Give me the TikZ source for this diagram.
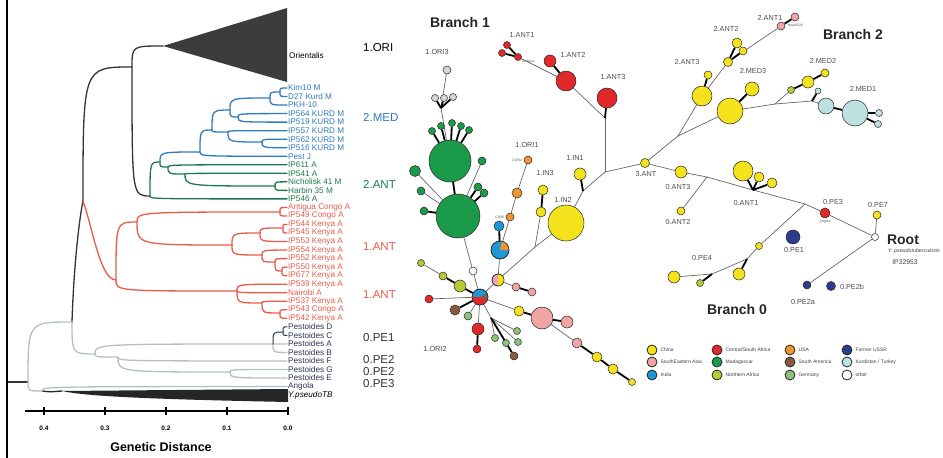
\documentclass[tikz,border=0pt]{standalone}
\usepackage{fontspec}
\setmainfont{Liberation Sans}
\usetikzlibrary{positioning,calc,backgrounds}

\definecolor{medblue}{HTML}{2E7BC0}
\definecolor{antgreen}{HTML}{1C7A4A}
\definecolor{antred}{HTML}{EB5A48}
\definecolor{pegray}{HTML}{B5BEC4}
\definecolor{pedark}{HTML}{2D3552}
\definecolor{treedark}{HTML}{333333}
\definecolor{oricol}{HTML}{3C3C3C}
\definecolor{cchina}{HTML}{F4E21C}
\definecolor{csea}{HTML}{F2A3A3}
\definecolor{cindia}{HTML}{1E98D4}
\definecolor{cafr}{HTML}{E1292B}
\definecolor{cmad}{HTML}{1B9A4A}
\definecolor{cnafr}{HTML}{B9C935}
\definecolor{cusa}{HTML}{EC9632}
\definecolor{csam}{HTML}{8A5A3E}
\definecolor{cger}{HTML}{8CC07C}
\definecolor{cussr}{HTML}{2B3E8E}
\definecolor{ckurd}{HTML}{BDE0E0}
\definecolor{cori}{HTML}{D6D6D6}

\begin{document}
\begin{tikzpicture}[x=1pt, y=-1pt,
    tr/.style={line width=1.3pt, line cap=round},
    leaf/.style={anchor=west, inner sep=1pt, font=\fontsize{8.2}{8.5}\selectfont},
    clade/.style={anchor=west, inner sep=0pt, font=\fontsize{11.5}{12}\selectfont},
    tick/.style={font=\bfseries\fontsize{6.5}{7}\selectfont},
    hap/.style={circle, draw=black!85, line width=0.5pt, inner sep=0pt, minimum size=#1},
    hap/.default=8pt,
    edge/.style={draw=black!60, line width=0.7pt},
    tie/.style={draw=black, line width=1.8pt},
    hlab/.style={font=\fontsize{7.3}{8}\selectfont, text=black!70},
    tiny/.style={font=\fontsize{3.5}{4}\selectfont, text=black!65, inner sep=0.5pt},
    brlab/.style={font=\bfseries\fontsize{14}{14}\selectfont, text=black!85},
    leg/.style={font=\fontsize{5}{5}\selectfont, text=black!75, inner sep=0pt}
]
\useasboundingbox (0,0) rectangle (943,458);

% ---------------- dendrogram ----------------
\draw[line width=2pt] (7,0) -- (7,458);

% leaves
\foreach \t [count=\i from 0] in {Kim10 M, D27 Kurd M, PKH-10, IP564 KURD M, IP519 KURD M,
    IP557 KURD M, IP562 KURD M, IP516 KURD M, Pest J} {
  \coordinate (l\i) at (287,{88+8.53*\i});
  \node[leaf, text=medblue] (lab\i) at (l\i) {\t};
}
\foreach \t [count=\i from 9] in {IP611 A, IP541 A, Nicholisk 41 M, Harbin 35 M, IP546 A} {
  \coordinate (l\i) at (287,{88+8.53*\i});
  \node[leaf, text=antgreen] (lab\i) at (l\i) {\t};
}
\foreach \t [count=\i from 14] in {Antigua Congo A, IP549 Congo A, IP544 Kenya A, IP545 Kenya A,
    IP553 Kenya A, IP554 Kenya A, IP552 Kenya A, IP550 Kenya A, IP677 Kenya A, IP539 Kenya A,
    Nairobi A, IP537 Kenya A, IP543 Congo A, IP542 Kenya A} {
  \coordinate (l\i) at (287,{88+8.53*\i});
  \node[leaf, text=antred] (lab\i) at (l\i) {\t};
}
\foreach \t [count=\i from 28] in {Pestoides D, Pestoides C, Pestoides A, Pestoides B,
    Pestoides F, Pestoides G, Pestoides E, Angola} {
  \coordinate (l\i) at (287,{88+8.53*\i});
  \node[leaf, text=pedark] (lab\i) at (l\i) {\t};
}
\coordinate (l36) at (287,{88+8.53*36});
\node[leaf, text=black] (lab36) at (l36) {\itshape Y.pseudoTB};

% collapsed clades
\coordinate (ori) at (163,46);
\fill[oricol] (ori) -- (287,8) -- (287,82) -- cycle;
\node[leaf] (orilab) at (288,56) {Orientalis};
\coordinate (yp) at (62,391);
\fill[black!85] (yp) -- (288,389) -- (288,402) .. controls (140,399) and (85,396) .. (yp);

% internal nodes
\coordinate (rt) at (8,382);   \coordinate (p0) at (28,382);
\coordinate (p1) at (72,322);  \coordinate (q0) at (42,391);
\coordinate (r0) at (83,201);  \coordinate (k1) at (132,67);
\coordinate (g0) at (150,196); \coordinate (g1) at (160,162);
\coordinate (gA) at (168,167); \coordinate (gB) at (185,174);
\coordinate (gC) at (275,186);
\coordinate (bA) at (200,152); \coordinate (bB) at (212,130);
\coordinate (bC) at (230,110); \coordinate (bD) at (228,132);
\coordinate (bE) at (262,142); \coordinate (bF) at (238,117);
\coordinate (bG) at (270,98);  \coordinate (bH) at (280,92);
\coordinate (rA) at (116,280); \coordinate (rB) at (137,222);
\coordinate (rC) at (237,291); \coordinate (rD) at (280,212);
\coordinate (rE) at (232,245); \coordinate (rF) at (260,233);
\coordinate (rG) at (262,255); \coordinate (rH) at (283,228);
\coordinate (rI) at (275,262); \coordinate (rJ) at (282,271);
\coordinate (rL) at (262,303); \coordinate (rM) at (280,313);
\coordinate (pA) at (95,354);  \coordinate (pB) at (273,344);
\coordinate (pC) at (118,357); \coordinate (pD) at (283,332);
\coordinate (pE) at (230,372);

% branches
\draw[tr, treedark] (rt) -- (p0);
\draw[tr, treedark] (p1) .. controls (74,260) and (80,215) .. (r0);
\foreach \a/\b in {r0/k1, k1/ori, k1/g0}
  \draw[tr, treedark] (\a) .. controls (\a |- \b) .. (\b);
\draw[tr, black!85] (q0) .. controls (50,392) .. (yp);
\foreach \a/\b in {g0/l13, g0/g1, g1/gA, gA/l9, gA/gB, gB/l10, gB/gC, gC/l11, gC/l12}
  \draw[tr, antgreen] (\a) .. controls (\a |- \b) .. (\b);
\foreach \a/\b in {g1/bA, bA/l8, bA/bB, bB/bC, bB/bD, bD/l5, bD/bE, bE/l6, bE/l7,
    bC/bF, bC/bG, bF/l3, bF/l4, bG/l2, bG/bH, bH/l0, bH/l1}
  \draw[tr, medblue] (\a) .. controls (\a |- \b) .. (\b);
\draw[tr, antred] (r0) .. controls (92,225) and (100,280) .. (rA);
\foreach \a/\b in {rA/rB, rA/rC, rB/rD, rB/rE, rD/l14, rD/l15, rE/rF, rE/rG, rF/rH, rF/l18,
    rH/l16, rH/l17, rG/l19, rG/rI, rI/l20, rI/rJ, rJ/l21, rJ/l22,
    rC/l23, rC/l24, rC/rL, rL/l25, rL/rM, rM/l26, rM/l27}
  \draw[tr, antred] (\a) .. controls (\a |- \b) .. (\b);
\foreach \a/\b in {p0/p1, p1/pA, pA/pB, pA/pC, pB/l30, pB/l31, pC/l32, pC/pE, pE/l33, pE/l34,
    p0/q0, q0/l35}
  \draw[tr, pegray] (\a) .. controls (\a |- \b) .. (\b);
\foreach \a/\b in {pB/pD, pD/l28, pD/l29}
  \draw[tr, pedark, line width=1pt] (\a) .. controls (\a |- \b) .. (\b);

% clade names
\node[clade, text=black] (c1) at (363,48) {1.ORI};
\node[clade, text=medblue] (c2) at (363,117) {2.MED};
\node[clade, text=antgreen] (c3) at (363,184) {2.ANT};
\node[clade, text=antred] (c4) at (363,247) {1.ANT};
\node[clade, text=antred] (c5) at (363,295) {1.ANT};
\node[clade, text=treedark] (c6) at (363,338) {0.PE1};
\node[clade, text=treedark] (c7) at (363,360) {0.PE2};
\node[clade, text=treedark] (c8) at (363,372) {0.PE2};
\node[clade, text=treedark] (c9) at (363,384) {0.PE3};

% axis
\coordinate (ax0) at (25,411); \coordinate (ax1) at (289,411);
\draw[line width=1.8pt] (ax0) -- (ax1);
\foreach \v/\x in {0.4/44, 0.3/105, 0.2/166, 0.1/227, 0.0/288} {
  \draw[line width=1.5pt] (\x,407) -- (\x,415);
  \node[tick] (tk\x) at (\x,428) {\v};
}
\node[font=\bfseries\fontsize{12.5}{13}\selectfont] (gdist) at (161,447) {Genetic Distance};

% ---------------- network ----------------
% Branch 1
\node[hap=7pt, fill=cafr] (a1a) at (507,45) {};
\node[hap=7pt, fill=cafr] (a1b) at (502,53) {};
\node[hap=7pt, fill=cafr] (a1c) at (518,57) {};
\node[hap=12pt, fill=cafr] (a2) at (550,61) {};
\node[hap=20pt, fill=cafr] (a3) at (566,81) {};
\node[hap=20pt, fill=cafr] (a4) at (607,98) {};
\coordinate (jA) at (605,118);
\coordinate (J1) at (605,172);
\coordinate (K2) at (583,191);
\coordinate (jB) at (535,247);
\node[hap=9pt, fill=cchina] (t3) at (645,163) {};
\node[hap=12pt, fill=cchina] (in1) at (580,174) {};
\node[hap=36pt, fill=cchina] (in2) at (566,223) {};
\node[hap=10pt, fill=cchina] (in3a) at (541,212) {};
\node[hap=10pt, fill=cchina] (in3b) at (543,190) {};
\node[hap=8pt, fill=cusa] (o1) at (528,160) {};
\node[hap=10pt, fill=cusa] (o2) at (517,193) {};
\node[hap=8pt, fill=cusa] (o3) at (510,217) {};
\node[hap=10pt, fill=cindia] (bl1) at (499,226) {};
\node[hap=18pt, fill=cindia] (pieBO) at (500,250) {};
\node[hap=12pt, fill=csea] (pieSY) at (498,280) {};
\node[hap=8pt, fill=csea] (pk1) at (516,287) {};
\node[hap=8pt, fill=csea] (pk2) at (532,292) {};
\node[hap=16pt, fill=cindia] (ctr) at (480,297) {};
\node[hap=8pt, fill=white] (wh) at (473,271) {};
\node[hap=44pt, fill=cmad] (gbig2) at (458,216) {};
\node[hap=42pt, fill=cmad] (gbig1) at (450,161) {};
\foreach \x/\y [count=\i] in {432/131, 441/126, 452/123, 461/126, 469/130}
  \node[hap=7pt, fill=cmad] (gs\i) at (\x,\y) {};
\node[hap=11pt, fill=cmad] (gs6) at (415,171) {};
\node[hap=8pt, fill=cmad] (gs7) at (482,161) {};
\node[hap=8pt, fill=cmad] (gs8) at (421,191) {};
\node[hap=8pt, fill=cmad] (gs9) at (424,211) {};
\node[hap=8pt, fill=cmad] (gs10) at (478,187) {};
\node[hap=8pt, fill=cmad] (gs11) at (484,193) {};
\coordinate (jC) at (441,108);
\node[hap=8pt, fill=cori] (w0) at (447,70) {};
\node[hap=7pt, fill=cori] (w1) at (435,98) {};
\node[hap=7pt, fill=cori] (w2) at (444,98) {};
\node[hap=7pt, fill=cori] (w3) at (453,97) {};
\node[hap=7pt, fill=cnafr] (na1) at (421,263) {};
\node[hap=8pt, fill=cnafr] (na2) at (443,276) {};
\node[hap=12pt, fill=cnafr] (na3) at (460,286) {};
\node[hap=8pt, fill=cafr] (rd1) at (429,299) {};
\node[hap=10pt, fill=csam] (br1) at (455,310) {};
\node[hap=8pt, fill=cger] (gg1) at (468,316) {};
\node[hap=12pt, fill=cafr] (rd2) at (478,329) {};
\node[hap=8pt, fill=cafr] (rd3) at (477,349) {};
\coordinate (jD) at (491,318);
\node[hap=7pt, fill=cger] (ge1) at (495,338) {};
\node[hap=7pt, fill=cger] (ge2) at (506,343) {};
\node[hap=7pt, fill=cger] (ge3) at (518,342) {};
\node[hap=7pt, fill=cger] (ge4) at (517,331) {};
\node[hap=8pt, fill=csam] (br2) at (514,356) {};
\node[hap=10pt, fill=cchina] (ye1) at (519,311) {};
\node[hap=22pt, fill=csea] (pkb) at (542,318) {};
\node[hap=12pt, fill=csea] (pk3) at (567,322) {};
\node[hap=10pt, fill=csea] (pk4) at (577,343) {};
\node[hap=10pt, fill=cchina] (ye2) at (597,357) {};
\node[hap=10pt, fill=cchina] (ye3) at (613,369) {};
\node[hap=7pt, fill=cchina] (ye4) at (632,382) {};

% pies
\fill[cusa] (pieBO.center) -- (pieBO.east) arc[start angle=0, end angle=80, radius=9pt] -- cycle;
\draw[black!85, line width=0.5pt] (pieBO.center) circle[radius=9pt];
\fill[cafr] (ctr.center) -- (ctr.west) arc[start angle=180, end angle=360, radius=8pt] -- cycle;
\fill[csam] (ctr.center) -- ++(-25:8pt) arc[start angle=-25, end angle=25, radius=8pt] -- cycle;
\draw[black!85, line width=0.5pt] (ctr.center) circle[radius=8pt];
\fill[cchina] (pieSY.center) -- (pieSY.south) arc[start angle=-90, end angle=90, radius=6pt] -- cycle;
\draw[black!85, line width=0.5pt] (pieSY.center) circle[radius=6pt];

% Branch 2
\coordinate (J2) at (678,136);
\node[hap=20pt, fill=cchina] (yb) at (702,96) {};
\node[hap=8pt, fill=cchina] (y3s) at (708,75) {};
\node[hap=9pt, fill=cchina] (y2c) at (728,62) {};
\node[hap=10pt, fill=cchina] (y2a) at (737,43) {};
\node[hap=8pt, fill=cchina] (y2b) at (743,51) {};
\node[hap=8pt, fill=csea] (pa1) at (781,26) {};
\node[hap=8pt, fill=csea] (pa2) at (795,17) {};
\node[hap=26pt, fill=cchina] (ym) at (730,111) {};
\node[hap=14pt, fill=cchina] (ym2) at (752,89) {};
\coordinate (jF) at (775,104);
\coordinate (jG) at (812,101);
\node[hap=7pt, fill=cnafr] (ol1) at (791,90) {};
\node[hap=12pt, fill=cchina] (ym3) at (808,82) {};
\node[hap=8pt, fill=cchina] (ym4) at (825,73) {};
\node[hap=6pt, fill=ckurd] (kb0) at (818,91) {};
\node[hap=16pt, fill=ckurd] (kb1) at (826,106) {};
\node[hap=26pt, fill=ckurd] (kb2) at (855,113) {};
\node[hap=7pt, fill=ckurd] (kb3) at (879,113) {};
\node[hap=7pt, fill=ckurd] (kb4) at (878,124) {};

% Branch 0
\node[hap=12pt, fill=cchina] (ya3) at (681,172) {};
\coordinate (jH) at (707,177);
\node[hap=8pt, fill=cchina] (ya2) at (681,211) {};
\coordinate (jI) at (753,190);
\node[hap=20pt, fill=cchina] (yb1) at (743,171) {};
\node[hap=10pt, fill=cchina] (yb2) at (759,177) {};
\node[hap=10pt, fill=cchina] (yb3) at (772,183) {};
\coordinate (jJ) at (805,204);
\node[hap=10pt, fill=cafr] (pe3) at (825,213) {};
\node[hap=7pt, fill=white] (rootc) at (875,237) {};
\node[hap=8pt, fill=cchina] (pe7) at (877,215) {};
\node[hap=7pt, fill=cchina] (ypa) at (759,246) {};
\coordinate (jK) at (747,259);
\coordinate (jL) at (712,274);
\node[hap=12pt, fill=cchina] (ypb) at (739,274) {};
\node[hap=7pt, fill=cnafr] (ypc) at (700,283) {};
\node[hap=12pt, fill=cchina] (ypd) at (674,277) {};
\node[hap=14pt, fill=cussr] (pe1) at (793,237) {};
\node[hap=8pt, fill=cussr] (pe2a) at (807,285) {};
\node[hap=9pt, fill=cussr] (pe2b) at (831,286) {};

\begin{scope}[on background layer]
  \foreach \a/\b in {a1c/a3, a3/jA, jA/J1, J1/t3, J1/K2, K2/in2, in2/jB, jB/in3a, jB/pieSY,
      o1/o2, o2/o3, o3/pieBO, pieBO/pieSY, pieSY/ctr, pieSY/pk1, ctr/wh, wh/gbig2, w0/jC, jC/gbig1,
      gs6/gbig2, gs7/gbig2, gs8/gbig2, na1/na2, ctr/rd1, ctr/gg1, ctr/rd2, ctr/jD, jD/ge1, jD/ge2,
      jD/ge3, jD/ge4, ctr/ye1, pkb/pk4,
      t3/J2, J2/yb, yb/y2c, y2c/pa1, J2/ym, ym/jF, jF/jG, jF/ol1, jG/kb1,
      t3/ya3, ya3/jH, jH/ya2, jH/jI, jI/jJ, jJ/pe3, pe3/rootc, pe7/rootc, jJ/ypa, ypa/jK,
      jK/jL, jL/ypd, rootc/pe2a}
    \draw[edge] (\a) -- (\b);
  \foreach \a/\b in {a1a/a1c, a1b/a1c, a2/a3, a4/jA, K2/in1, in3a/in3b, bl1/pieBO, pk1/pk2,
      gbig1/gbig2, gs1/gbig1, gs2/gbig1, gs3/gbig1, gs4/gbig1, gs5/gbig1, gs9/gbig2, gs10/gbig2,
      gs11/gbig2, w1/jC, w2/jC, w3/jC, na2/na3, na3/ctr, ctr/br1, rd2/rd3, jD/br2, ye1/pkb,
      pkb/pk3, pk4/ye2, ye2/ye3, ye3/ye4,
      yb/y3s, y2c/y2a, y2c/y2b, pa1/pa2, ym/ym2, ol1/ym3, ym3/ym4, jG/kb0, kb1/kb2, kb2/kb3,
      kb2/kb4, jI/yb1, jI/yb2, jI/yb3, jK/ypb, jL/ypc}
    \draw[tie] (\a) -- (\b);
\end{scope}

% haplogroup labels
\foreach \t/\x/\y [count=\i] in {1.ANT1/522/35, 1.ANT2/573/55, 1.ANT3/613/77, 1.ORI3/437/52,
    1.ORI1/527/145, 1.IN1/575/158, 1.IN3/545/173, 1.IN2/563/200, 3.ANT/646/174, 1.ORI2/435/349,
    2.ANT1/770/18, 2.ANT2/726/29, 2.ANT3/687/62, 2.MED3/753/71, 2.MED2/823/61, 2.MED1/863/89,
    0.ANT3/678/187, 0.ANT2/678/222, 0.ANT1/746/203, 0.PE3/833/202, 0.PE7/878/205,
    0.PE4/702/258, 0.PE1/794/250, 0.PE2a/803/302, 0.PE2b/852/287}
  \node[hlab] (hl\i) at (\x,\y) {\t};

\node[tiny, below=1pt of pe3] (angtxt) {Angola};
\node[tiny, below right=0pt and 1pt of a1c] (antxt) {Antigua};
\node[tiny, right=2pt of pa1] (neptxt) {Nepal516};
\node[tiny, left=1pt of o3] (catxt) {CA88};
\node[tiny, left=1pt of o1] (contxt) {CON2};

\node[brlab] (br1lab) at (460,22) {Branch 1};
\node[brlab] (br2lab) at (853,34) {Branch 2};
\node[brlab] (br0lab) at (737,309) {Branch 0};
\node[brlab] (rootlab) at (903,240) {Root};
\node[anchor=west, inner sep=0pt, font=\itshape\fontsize{5.3}{6}\selectfont, text=black!75] (ypslab) at (888,251) {Y. pseudotuberculosis};
\node[font=\fontsize{6.8}{7}\selectfont, text=black!75] (ipslab) at (905,262) {IP32953};

% legend
\foreach \c/\t/\x/\y [count=\i] in {cchina/China/652/350, csea/SouthEastern Asia/652/362,
    cindia/India/652/375, cafr/{Central/South Africa}/717/350, cmad/Madagascar/717/362,
    cnafr/Northern Africa/717/375, cusa/USA/790/350, csam/South America/790/362,
    cger/Germany/790/375, cussr/Former USSR/847/350, ckurd/{Kurdistan / Turkey}/847/362,
    white/other/847/375} {
  \node[hap=10pt, fill=\c, line width=0.8pt] (lg\i) at (\x,\y) {};
  \node[leg, right=3pt of lg\i] (lgt\i) {\t};
}
\end{tikzpicture}
\end{document}
